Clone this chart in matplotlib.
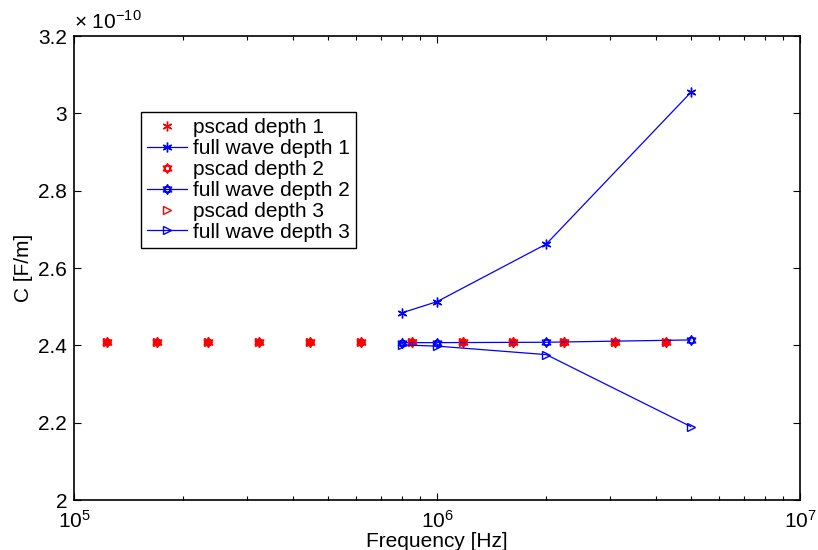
import matplotlib
matplotlib.use("Agg")
import matplotlib.pyplot as plt
import numpy as np
from matplotlib.path import Path
from matplotlib.ticker import FuncFormatter, LogLocator, NullFormatter

plt.rcParams["font.family"] = ["Liberation Sans", "DejaVu Sans"]
plt.rcParams["mathtext.fontset"] = "custom"
plt.rcParams["mathtext.rm"] = "Liberation Sans"

# ---- 数据 ----
f_pscad = [1.233e5, 1.69e5, 2.34e5, 3.23e5, 4.47e5, 6.18e5,
           8.53e5, 1.18e6, 1.62e6, 2.24e6, 3.09e6, 4.28e6]
c_pscad1 = [2.408e-10] * 12
c_pscad2 = [2.408e-10] * 12
c_pscad3 = [2.408e-10] * 12

f_full = [8e5, 1e6, 2e6, 5e6]
c_full1 = [2.484e-10, 2.513e-10, 2.662e-10, 3.054e-10]
c_full2 = [2.407e-10, 2.407e-10, 2.408e-10, 2.414e-10]
c_full3 = [2.401e-10, 2.398e-10, 2.376e-10, 2.190e-10]

labels = ["pscad depth 1", "full wave depth 1", "pscad depth 2",
          "full wave depth 2", "pscad depth 3", "full wave depth 3"]

FS = 15

# MATLAB 的 hexagram:两个三角形叠成六角星
t = np.deg2rad(np.arange(6) * 60 + 90)
v = np.column_stack([np.cos(t), np.sin(t)])
hexagram = Path(np.vstack([v[0], v[2], v[4], v[0], v[1], v[3], v[5], v[1]]),
                [Path.MOVETO, Path.LINETO, Path.LINETO, Path.CLOSEPOLY] * 2)
asterisk = (6, 2, 0)

fig = plt.figure(figsize=(8.18, 5.5), dpi=100)
ax = fig.add_axes([0.0905, 0.0909, 0.8875, 0.8436])

ax.plot(f_pscad, c_pscad1, ls="none", marker=asterisk, color="red", ms=7,
        mew=1, label=labels[0])
ax.plot(f_full, c_full1, "-", color="blue", lw=0.9, marker=asterisk, ms=7,
        mew=1, label=labels[1])
ax.plot(f_pscad, c_pscad2, ls="none", marker=hexagram, color="red", ms=7,
        mfc="none", mew=1, label=labels[2])
ax.plot(f_full, c_full2, "-", color="blue", lw=0.9, marker=hexagram, ms=7,
        mfc="none", mew=1, label=labels[3])
ax.plot(f_pscad, c_pscad3, ls="none", marker=">", color="red", ms=6,
        mfc="none", mew=1, label=labels[4])
ax.plot(f_full, c_full3, "-", color="blue", lw=0.9, marker=">", ms=6,
        mfc="none", mew=1, label=labels[5])

ax.set_xscale("log")
ax.set_xlim(1e5, 1e7)
ax.set_ylim(2e-10, 3.2e-10)
ax.set_yticks(np.arange(2.0, 3.21, 0.2) * 1e-10)
ax.yaxis.set_major_formatter(FuncFormatter(lambda y, p: "%g" % round(y * 1e10, 2)))
ax.xaxis.set_major_locator(LogLocator(base=10, numticks=5))
ax.xaxis.set_minor_locator(LogLocator(base=10, subs=np.arange(2, 10), numticks=20))
ax.xaxis.set_minor_formatter(NullFormatter())

ax.tick_params(which="both", direction="in", top=True, right=True,
               labelsize=FS, width=0.8)
ax.tick_params(axis="x", which="major", pad=7)
ax.tick_params(axis="y", which="major", pad=5)
ax.tick_params(which="major", length=5)
ax.tick_params(which="minor", length=3)
for s in ax.spines.values():
    s.set_linewidth(1.2)

ax.set_xlabel("Frequency [Hz]", fontsize=FS, labelpad=0)
ax.set_ylabel("C [F/m]", fontsize=FS, labelpad=4)
ax.text(0.0, 1.008, r"$\times$ 10$^{-10}$", transform=ax.transAxes,
        fontsize=FS, ha="left", va="bottom")

leg = ax.legend(loc="upper left", bbox_to_anchor=(0.092, 0.836),
                borderaxespad=0, fontsize=FS, handlelength=1.9,
                handletextpad=0.3, labelspacing=0.09, borderpad=0.3,
                fancybox=False, framealpha=1)
leg.get_frame().set_edgecolor("black")
leg.get_frame().set_linewidth(1.0)

fig.savefig("out.png", dpi=100)
